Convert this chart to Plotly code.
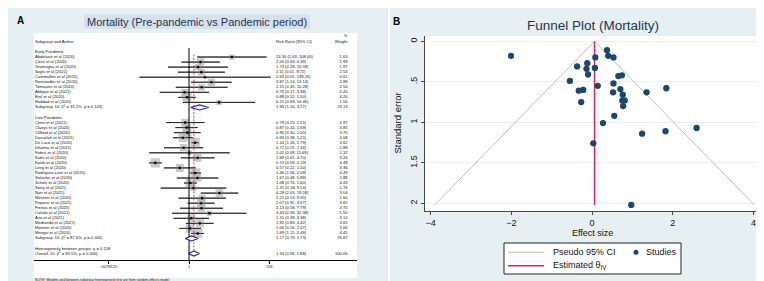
import math
import plotly.graph_objects as go

W, H = 764, 281


def X(px):
    return px / W


def Y(py):
    return 1 - py / H


# ---------------- Forest plot data (panel A) ----------------
early_authors = ["Abdelaziz et al (2020)", "Çinar et al (2020)", "Gramagna et al (2020)",
                 "Soylu et al (2021)", "Cammalleri et al (2020)", "Reinstadler et al (2020)",
                 "Tomasoni et al (2020)", "Abbgati et al (2021)", "Erol et al (2020)",
                 "Haddad et al (2020)"]
early_rr = [13.30, 2.00, 1.73, 2.11, 2.63, 3.87, 2.15, 0.76, 0.88, 6.15]
early_lo = [1.63, 0.63, 0.28, 0.51, 0.05, 1.14, 0.45, 0.17, 0.52, 0.69]
early_hi = [108.60, 6.39, 10.58, 8.72, 139.26, 13.14, 10.28, 3.38, 1.50, 54.46]
early_wt = [1.63, 2.99, 1.97, 2.53, 0.61, 2.88, 2.50, 2.45, 4.20, 1.50]

late_authors = ["Chen et al (2021)", "Claeys et al (2020)", "Clifford et al (2020)",
                "Dasselah et al (2021)", "De Luca et al (2020)", "Dhanna et al (2021)",
                "Fabris et al (2020)", "Kabe et al (2020)", "Kwok et al (2020)",
                "Leng et al (2020)", "Rodriguez-Leor et al (2020)", "Salarifar et al (2020)",
                "Scholz et al (2020)", "Song et al (2021)", "Nan et al (2021)",
                "Mesnier et al (2020)", "Popovic et al (2021)", "Freitas et al (2020)",
                "Calvão et al (2021)", "Arai et al (2021)", "Medranda et al (2021)",
                "Hamner et al (2020)", "Mengai et al (2020)"]
late_rr = [0.79, 0.87, 0.90, 0.69, 1.44, 0.72, 1.02, 1.69, 0.13, 0.57, 1.46, 1.67,
           1.08, 1.31, 6.28, 2.21, 2.07, 2.13, 3.43, 1.15, 1.92, 1.06, 1.69]
late_lo = [0.25, 0.44, 0.40, 0.38, 1.16, 0.22, 0.09, 0.61, 0.09, 0.22, 1.06, 0.48,
           0.74, 0.18, 2.03, 0.53, 0.92, 0.58, 0.36, 0.39, 0.83, 0.56, 1.15]
late_hi = [2.55, 1.69, 2.00, 1.25, 1.79, 2.34, 11.69, 4.70, 0.19, 1.50, 2.08, 5.88,
           1.60, 9.53, 19.58, 9.35, 4.67, 7.79, 32.38, 3.38, 4.42, 2.07, 2.48]
late_wt = [2.97, 3.85, 3.70, 4.08, 4.62, 2.88, 1.32, 3.26, 4.48, 3.36, 4.49, 2.88,
           4.43, 1.76, 3.04, 2.60, 3.65, 2.75, 1.50, 3.14, 3.65, 3.66, 4.45]

group_labels = ["Early Pandemic", "Late Pandemic"]
sub_labels = ["Subgroup, DL (I<sup>2</sup> = 33.2%, p = 0.143)",
              "Subgroup, DL (I<sup>2</sup> = 87.6%, p = 0.000)"]
sub_rr = [1.90, 1.17]
sub_lo = [1.10, 0.79]
sub_hi = [3.27, 1.73]
sub_wt = [23.13, 76.87]

het_label = "Heterogeneity between groups: p = 0.158"
overall_label = "Overall, DL (I<sup>2</sup> = 83.5%, p = 0.000)"
overall_rr = [1.34]
overall_lo = [0.96]
overall_hi = [1.88]
overall_wt = [100.00]

forest_ticks = [0.0078125, 1, 128]
forest_ticktext = [".0078125", "1", "128"]
note_text = "NOTE: Weights and between-subgroup heterogeneity test are from random-effects model"

# ---------------- Funnel plot data (panel B) ----------------
funnel_es = [-2.01, 0.37, 0.40, 0.53, 0.08, -0.37, -0.12, -0.14, 0.07, -0.10, 0.65,
             0.74, -0.55, 0.14, -0.33, -0.22, 0.53, 0.70, 0.52, 0.76, 0.75, 0.81,
             0.77, 1.35, 1.84, -0.27, 0.55, 0.27, 1.24, 1.82, 2.59, 0.03, 0.97]
funnel_se = [0.18, 0.11, 0.18, 0.20, 0.20, 0.31, 0.27, 0.34, 0.33, 0.41, 0.43,
             0.42, 0.49, 0.55, 0.61, 0.60, 0.52, 0.59, 0.63, 0.66, 0.73, 0.73,
             0.80, 0.63, 0.58, 0.75, 0.92, 1.01, 1.14, 1.11, 1.07, 1.26, 2.02]
theta_iv = 0.06
se_max = 2.02
funnel_xticks = [-4, -2, 0, 2, 4]
funnel_yticks = [0, 0.5, 1, 1.5, 2]
funnel_yticktext = ["0", ".5", "1", "1.5", "2"]

# ---------------- Geometry / styles ----------------
FONT = "Liberation Sans, Arial, sans-serif"
BG = "#e6eff1"
TITLE_COL = "#1e3555"
FX0, FX1 = 26, 349
FL0, FL1 = -4.073, 4.413
FY_TOP, FY_AXIS, FY_DOM_BOT = 25, 252, 279
ROW_TOP, ROW_AXIS = -3.77, 41.27
ROW_PX = (FY_AXIS - FY_TOP) / (ROW_AXIS - ROW_TOP)


def fx(px):
    return 10 ** (FL0 + (px - FX0) / (FX1 - FX0) * (FL1 - FL0))


def ry(py):
    return ROW_TOP + (py - FY_TOP) / ROW_PX


early_rows = list(range(1, 1 + len(early_authors)))
late_start = len(early_authors) + 4
late_rows = list(range(late_start, late_start + len(late_authors)))
group_rows = [0, late_start - 1]
sub_rows = [len(early_authors) + 1, late_rows[-1] + 1]
het_row = sub_rows[1] + 2
overall_row = het_row + 1

study_rr = early_rr + late_rr
study_lo = early_lo + late_lo
study_hi = early_hi + late_hi
study_wt = early_wt + late_wt
study_rows = early_rows + late_rows
study_names = early_authors + late_authors

fig = go.Figure()
common = dict(xaxis="x", yaxis="y", showlegend=False, hoverinfo="skip")

# CI lines
cx, cy = [], []
for lo, hi, r in zip(study_lo, study_hi, study_rows):
    cx += [lo, hi, None]
    cy += [r, r, None]
fig.add_trace(go.Scatter(x=cx, y=cy, mode="lines", line=dict(color="#2a2a2a", width=1),
                         **common))

# weight boxes
fig.add_trace(go.Scatter(x=study_rr, y=study_rows, mode="markers",
                         marker=dict(symbol="square", color="#b3b3b3",
                                     size=[4.4 * math.sqrt(w) for w in study_wt],
                                     line=dict(width=0)), **common))
fig.add_trace(go.Scatter(x=cx, y=cy, mode="lines", line=dict(color="#2a2a2a", width=0.8),
                         **common))
# point estimates
fig.add_trace(go.Scatter(x=study_rr, y=study_rows, mode="markers",
                         marker=dict(symbol="circle", color="black", size=2.6), **common))

# null line and overall dashed line
fig.add_trace(go.Scatter(x=[1, 1], y=[-0.8, ROW_AXIS], mode="lines",
                         line=dict(color="black", width=1), **common))
fig.add_trace(go.Scatter(x=[overall_rr[0], overall_rr[0]], y=[0.5, overall_row - 0.45],
                         mode="lines", line=dict(color="#e0202a", width=0.9, dash="2px,1.6px"),
                         **common))

# diamonds
dx, dy = [], []
hh = 0.5
for rr, lo, hi, r in zip(sub_rr + overall_rr, sub_lo + overall_lo, sub_hi + overall_hi,
                         sub_rows + [overall_row]):
    dx += [lo, rr, hi, rr, lo, None]
    dy += [r, r - hh, r, r + hh, r, None]
fig.add_trace(go.Scatter(x=dx, y=dy, mode="lines", fill="toself", fillcolor="white",
                         line=dict(color="#1b1f9a", width=1.1), **common))

# text columns
fsz = 4.1
tfont = dict(size=fsz, color="#111", family=FONT)
left_text = (["Subgroup and Author"] + group_labels + study_names + sub_labels
             + [het_label, overall_label])
left_rows = [-2] + group_rows + study_rows + sub_rows + [het_row, overall_row]
fig.add_trace(go.Scatter(x=[fx(27)] * len(left_text), y=left_rows, text=left_text,
                         mode="text", textposition="middle right", textfont=tfont,
                         **common))


def ci_str(rr, lo, hi):
    return f"{rr:.2f} ({lo:.2f}, {hi:.2f})"


mid_text = (["Risk Ratio (95% CI)"]
            + [ci_str(*v) for v in zip(study_rr, study_lo, study_hi)]
            + [ci_str(*v) for v in zip(sub_rr, sub_lo, sub_hi)]
            + [ci_str(overall_rr[0], overall_lo[0], overall_hi[0])])
mid_rows = [-2] + study_rows + sub_rows + [overall_row]
fig.add_trace(go.Scatter(x=[fx(268)] * len(mid_text), y=mid_rows, text=mid_text,
                         mode="text", textposition="middle right", textfont=tfont,
                         **common))

right_text = (["%", "Weight"] + [f"{w:.2f}" for w in study_wt]
              + [f"{w:.2f}" for w in sub_wt] + [f"{overall_wt[0]:.2f}"])
right_rows = [-3.15, -2] + study_rows + sub_rows + [overall_row]
fig.add_trace(go.Scatter(x=[fx(339.5)] * len(right_text), y=right_rows, text=right_text,
                         mode="text", textposition="middle left", textfont=tfont,
                         **common))

# forest axis tick labels and note (below the axis line)
fig.add_trace(go.Scatter(x=forest_ticks, y=[ry(258.5)] * len(forest_ticks),
                         text=forest_ticktext, mode="text", textposition="middle center",
                         textfont=dict(size=4, color="#111", family=FONT), **common))
fig.add_trace(go.Scatter(x=[fx(27)], y=[ry(272.5)], text=[note_text], mode="text",
                         textposition="middle right",
                         textfont=dict(size=3.4, color="#111", family=FONT), **common))

# ---------------- Funnel plot ----------------
fig.add_trace(go.Scatter(x=[theta_iv - 1.96 * se_max, theta_iv, theta_iv + 1.96 * se_max],
                         y=[se_max, 0, se_max], mode="lines",
                         line=dict(color="#bdbdbd", width=1),
                         xaxis="x2", yaxis="y2", name="Pseudo 95% CI", showlegend=False))
fig.add_trace(go.Scatter(x=[theta_iv, theta_iv], y=[0, se_max], mode="lines",
                         line=dict(color="#dc2250", width=1.4),
                         xaxis="x2", yaxis="y2", name="Estimated θ<sub>IV</sub>",
                         showlegend=False))
fig.add_trace(go.Scatter(x=funnel_es, y=funnel_se, mode="markers",
                         marker=dict(color="#1a476f", size=6.3),
                         xaxis="x2", yaxis="y2", name="Studies", showlegend=False))

shapes = [
    dict(type="rect", xref="paper", yref="paper", x0=0, x1=X(380), y0=Y(280), y1=1,
         fillcolor=BG, line=dict(width=0), layer="below"),
    dict(type="rect", xref="paper", yref="paper", x0=X(382), x1=1, y0=Y(280), y1=1,
         fillcolor=BG, line=dict(width=0), layer="below"),
    dict(type="rect", xref="paper", yref="paper", x0=X(FX0), x1=X(FX1), y0=Y(270),
         y1=Y(25), fillcolor="white", line=dict(width=0), layer="below"),
    dict(type="rect", xref="paper", yref="paper", x0=X(76), x1=X(302), y0=Y(21),
         y1=Y(6.5), fillcolor="#d6e1ea", line=dict(width=0), layer="below"),
    dict(type="rect", xref="paper", yref="paper", x0=X(416.7), x1=X(752.7), y0=Y(203),
         y1=Y(28), fillcolor="white", line=dict(width=0), layer="below"),
    # legend box
    dict(type="rect", xref="paper", yref="paper", x0=X(496), x1=X(673), y0=Y(266),
         y1=Y(235), fillcolor="white", line=dict(color="#222", width=1)),
    dict(type="line", xref="paper", yref="paper", x0=X(500), x1=X(536), y0=Y(244.3),
         y1=Y(244.3), line=dict(color="#bdbdbd", width=1)),
    dict(type="line", xref="paper", yref="paper", x0=X(500), x1=X(536), y0=Y(257.7),
         y1=Y(257.7), line=dict(color="#dc2250", width=1.4)),
    dict(type="circle", xref="paper", yref="paper", x0=X(625.5), x1=X(630.5),
         y0=Y(246.8), y1=Y(241.8), fillcolor="#1a476f", line=dict(width=0)),
]


def ann(text, px, py, size, color="#111", xanchor="center", angle=0):
    return dict(text=text, x=X(px), y=Y(py), xref="paper", yref="paper",
                xanchor=xanchor, yanchor="middle", showarrow=False, textangle=angle,
                font=dict(size=size, color=color, family=FONT))


annotations = [
    ann("<b>A</b>", 12, 13, 10, "black"),
    ann("Mortality (Pre-pandemic vs Pandemic period)", 189, 13.8, 11, TITLE_COL),
    ann("<b>B</b>", 388, 14, 10, "black"),
    ann("Funnel Plot (Mortality)", 585, 17.5, 13.5, TITLE_COL),
    ann("Effect size", 584, 224.5, 9),
    ann("Standard error", 389, 115.5, 9.5, angle=-90),
    ann("Pseudo 95% CI", 542.5, 244.3, 9, xanchor="left"),
    ann("Studies", 636, 244.3, 9, xanchor="left"),
    ann("Estimated θ<sub>IV</sub>", 542.5, 257.7, 9, xanchor="left"),
]

fig.update_layout(
    width=W, height=H, margin=dict(l=0, r=0, t=0, b=0),
    paper_bgcolor="white", plot_bgcolor="rgba(0,0,0,0)",
    showlegend=False, shapes=shapes, annotations=annotations,
    font=dict(family=FONT, color="#111"),
    xaxis=dict(domain=[X(FX0), X(FX1)], type="log", range=[FL0, FL1], anchor="free",
               position=Y(FY_AXIS),
               showgrid=False, zeroline=False, showline=True, linecolor="black",
               linewidth=1, ticks="outside", ticklen=3, tickwidth=1, tickcolor="black",
               tickvals=forest_ticks, showticklabels=False),
    yaxis=dict(domain=[Y(FY_DOM_BOT), Y(FY_TOP)], range=[ry(FY_DOM_BOT), ROW_TOP],
               anchor="x", visible=False),
    xaxis2=dict(domain=[X(416.7), X(752.7)], range=[-4.149, 4.179], anchor="y2",
                showgrid=False, zeroline=False, showline=True, linecolor="#444",
                linewidth=1, ticks="outside", ticklen=3, tickcolor="#444",
                tickvals=funnel_xticks, tickfont=dict(size=9, color="#111", family=FONT)),
    yaxis2=dict(domain=[Y(203), Y(28)], range=[2.095, -0.065], anchor="x2",
                showgrid=True, gridcolor="#e6eff1", gridwidth=1, zeroline=False,
                showline=True, linecolor="#444", linewidth=1, ticks="outside", ticklen=3,
                tickcolor="#444", tickvals=funnel_yticks, ticktext=funnel_yticktext,
                tickangle=-90, tickfont=dict(size=9, color="#111", family=FONT)),
)

fig.write_html("out.html")
